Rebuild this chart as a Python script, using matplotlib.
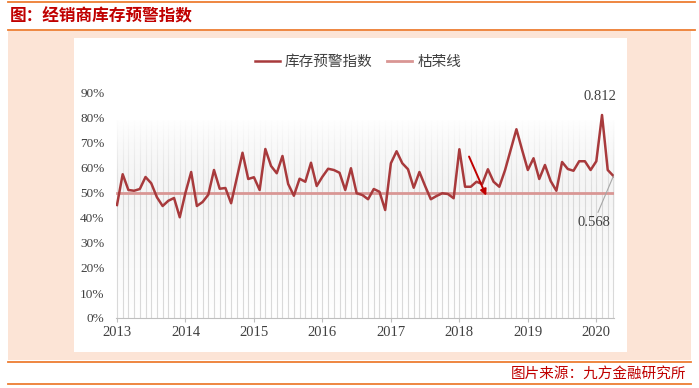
import numpy as np
import matplotlib
matplotlib.use("Agg")
import matplotlib.pyplot as plt
from matplotlib.patches import Rectangle
from matplotlib.lines import Line2D

plt.rcParams['font.family'] = ['Noto Sans CJK SC', 'DejaVu Sans']

# monthly index, 2013-01 .. 2020-04
values = [0.452, 0.575, 0.512, 0.509, 0.516, 0.564, 0.539, 0.483, 0.448, 0.469, 0.480, 0.403,
          0.501, 0.584, 0.448, 0.464, 0.493, 0.592, 0.517, 0.520, 0.459, 0.560, 0.661, 0.556,
          0.563, 0.512, 0.676, 0.608, 0.579, 0.648, 0.536, 0.489, 0.557, 0.545, 0.621, 0.528,
          0.565, 0.597, 0.592, 0.581, 0.512, 0.599, 0.499, 0.492, 0.475, 0.516, 0.505, 0.432,
          0.619, 0.667, 0.619, 0.595, 0.521, 0.584, 0.528, 0.475, 0.488, 0.499, 0.496, 0.479,
          0.675, 0.525, 0.525, 0.545, 0.536, 0.595, 0.545, 0.525, 0.591, 0.673, 0.755, 0.672,
          0.592, 0.639, 0.556, 0.612, 0.548, 0.509, 0.624, 0.596, 0.589, 0.627, 0.627, 0.592,
          0.627, 0.812, 0.592, 0.568]
boom_bust = 0.5
years = ['2013', '2014', '2015', '2016', '2017', '2018', '2019', '2020']
y_ticks = [0, 0.1, 0.2, 0.3, 0.4, 0.5, 0.6, 0.7, 0.8, 0.9]

W, H = 699, 388
fig = plt.figure(figsize=(W / 100, H / 100), dpi=100)

def box(x0, y0, x1, y1, color):
    # pixel coords from top-left
    fig.patches.append(Rectangle((x0 / W, 1 - y1 / H), (x1 - x0) / W, (y1 - y0) / H,
                                 transform=fig.transFigure, facecolor=color,
                                 edgecolor='none', zorder=-10))

def hline(y, x0, x1):
    fig.add_artist(Line2D([x0 / W, x1 / W], [1 - y / H, 1 - y / H],
                          transform=fig.transFigure, color='#ED7D31', lw=1.3, zorder=-5))

box(8, 31, 691, 360, '#FCE4D6')
box(74, 38, 627, 352, 'white')
hline(2, 8, 695)
hline(30, 8, 695)
hline(362, 8, 691)
hline(384, 8, 691)

fig.text(10 / W, 1 - 16 / H, '图：经销商库存预警指数', color='#C00000', fontsize=12,
         fontweight='bold', va='center', ha='left')
fig.text(686 / W, 1 - 374 / H, '图片来源：九方金融研究所', color='#C00000', fontsize=10.5,
         va='center', ha='right')

ax = fig.add_axes([115.5 / W, 1 - 318 / H, (614 - 115.5) / W, (318 - 93) / H])
ax.set_zorder(1)
ax.set_facecolor('none')
x = np.arange(len(values))
x_end = len(values) - 0.9
ax.set_xlim(-0.26, x_end)
ax.set_ylim(0, 0.9)

# gradient plot fill + monthly grid, fading out towards the top
grad = np.linspace(1, 0, 100).reshape(-1, 1)
ax.imshow(grad, extent=(0, x_end, 0, 0.79), aspect='auto',
          cmap=matplotlib.colors.LinearSegmentedColormap.from_list('g', ['#FFFFFF', '#EFEFEF']),
          zorder=0, interpolation='bicubic')
ax.vlines(x, 0, 0.79, color='#D9D9D9', lw=0.8, zorder=1)
fade = np.ones((100, 1, 4))
fade[:, 0, 3] = np.clip(np.linspace(1.0, -0.6, 100), 0, 1) ** 1.2
ax.imshow(fade, extent=(-0.3, x_end + 0.3, 0.25, 0.8), aspect='auto', zorder=1.5,
          interpolation='bilinear')
ax.set_xlim(-0.26, x_end)
ax.set_ylim(0, 0.9)

ax.plot(x, [boom_bust] * len(x), color='#D99694', lw=2.0, label='枯荣线', zorder=2)
ax.plot(x, values, color='#A83A3C', lw=1.8, label='库存预警指数', zorder=3)

for s in ['top', 'right', 'left']:
    ax.spines[s].set_visible(False)
ax.spines['bottom'].set_color('#BFBFBF')
ax.set_yticks(y_ticks)
ax.set_yticklabels([f'{int(round(v * 100))}%' for v in y_ticks], family='Liberation Serif',
                   fontsize=9.5, color='#404040')
ax.tick_params(axis='y', length=0, pad=8)
ax.set_xticks(np.arange(0, len(values), 12))
ax.set_xticklabels(years, family='Liberation Serif', fontsize=10.5, color='#404040')
ax.tick_params(axis='x', length=3, color='#BFBFBF', pad=3)

handles, labels = ax.get_legend_handles_labels()
ax.legend(handles[::-1], labels[::-1], loc='center', bbox_to_anchor=(358 / W, 1 - 62 / H),
          bbox_transform=fig.transFigure, ncol=2, frameon=False, fontsize=10.5,
          handlelength=1.7, handletextpad=0.35, columnspacing=1.0, labelcolor='#404040')

ax.text(84.7, 0.885, '0.812', family='Liberation Serif', fontsize=10.5, color='#404040',
        ha='center', va='center')
ax.annotate('0.568', xy=(87, values[-1]), xytext=(83.5, 0.38), family='Liberation Serif',
            fontsize=10.5, color='#404040', ha='center', va='center',
            arrowprops=dict(arrowstyle='-', color='#A6A6A6', lw=0.8, shrinkA=1, shrinkB=0))
ax.annotate('', xy=(64.9, 0.479), xytext=(61.5, 0.656),
            arrowprops=dict(arrowstyle='-|>', color='#C00000', lw=1.4, mutation_scale=9))

fig.savefig('out.png', dpi=100)
